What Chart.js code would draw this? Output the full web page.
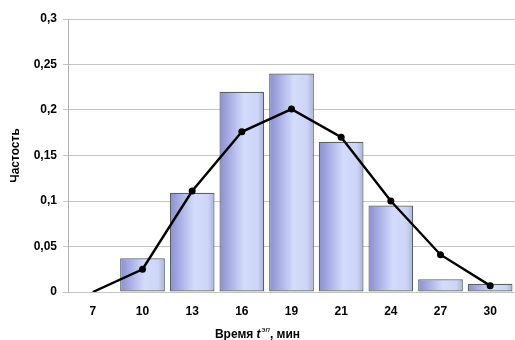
<!DOCTYPE html>
<html>
<head>
<meta charset="utf-8">
<script src="https://cdn.jsdelivr.net/npm/chart.js@4.4.1/dist/chart.umd.min.js"></script>
<style>
  html, body { margin: 0; padding: 0; background: #fff; }
  #wrap { width: 515px; height: 340px; }
</style>
</head>
<body>
<div id="wrap"><canvas id="myChart"></canvas></div>
<script>
// data
var categories = ['7', '10', '13', '16', '19', '21', '24', '27', '30'];
var barValues = [0, 0.037, 0.109, 0.22, 0.24, 0.165, 0.095, 0.014, 0.009];
var lineValues = [0, 0.025, 0.111, 0.176, 0.201, 0.170, 0.100, 0.041, 0.007];
var yTicks = [0, 0.05, 0.1, 0.15, 0.2, 0.25, 0.3];

var FONT = 'Liberation Sans, Arial, sans-serif';

function fmt(v) {
    return String(Math.round(v * 100) / 100).replace('.', ',');
}

// horizontal gradient for each bar, like the old Excel style
function barFill(context) {
    var chart = context.chart;
    var xs = chart.scales && chart.scales.x;
    if (!xs) return '#b8bff0';
    var cx = xs.getPixelForValue(context.dataIndex);
    var w = xs.width / categories.length * 0.9;
    if (!isFinite(cx) || !isFinite(w) || w <= 0) return '#b8bff0';
    var g = chart.ctx.createLinearGradient(cx - w / 2, 0, cx + w / 2, 0);
    g.addColorStop(0, '#8a8ed2');
    g.addColorStop(0.55, '#d4dcfc');
    g.addColorStop(0.85, '#cdd5f6');
    g.addColorStop(1, '#a9b0de');
    return g;
}

// x axis title with superscript
var xTitlePlugin = {
    id: 'xTitle',
    afterDraw: function (chart) {
        var c = chart.ctx;
        c.save();
        c.fillStyle = '#000';
        c.textBaseline = 'alphabetic';
        var a = 'Время ', t = 't', sup = 'эп', b = ', мин';
        c.font = 'bold 12px ' + FONT;
        var wa = c.measureText(a).width;
        var wb = c.measureText(b).width;
        c.font = 'italic bold 12px ' + FONT;
        var wt = c.measureText(t).width;
        c.font = 'italic 8px ' + FONT;
        var ws = c.measureText(sup).width;
        var total = wa + wt + ws + 1 + wb;
        var x = chart.width / 2 - total / 2;
        var y = 338;
        c.font = 'bold 12px ' + FONT;
        c.fillText(a, x, y); x += wa;
        c.font = 'italic bold 12px ' + FONT;
        c.fillText(t, x, y); x += wt + 1;
        c.font = 'italic 8px ' + FONT;
        c.fillText(sup, x, y - 6); x += ws;
        c.font = 'bold 12px ' + FONT;
        c.fillText(b, x, y);
        c.restore();
    }
};

var ctx = document.getElementById('myChart').getContext('2d');
var myChart = new Chart(ctx, {
    type: 'bar',
    data: {
        labels: categories,
        datasets: [{
            type: 'line',
            data: lineValues,
            borderColor: '#000',
            borderWidth: 2.4,
            pointRadius: [0, 3.5, 3.5, 3.5, 3.5, 3.5, 3.5, 3.5, 3.5],
            pointBorderWidth: 0,
            pointBackgroundColor: '#000',
            pointBorderColor: '#000',
            tension: 0,
            order: 0
        }, {
            data: barValues,
            backgroundColor: barFill,
            borderColor: '#56645f',
            borderWidth: 1.2,
            borderSkipped: false,
            barPercentage: 0.9,
            categoryPercentage: 1,
            order: 1
        }]
    },
    options: {
        responsive: true,
        maintainAspectRatio: false,
        animation: false,
        layout: { autoPadding: false, padding: { top: 19, right: 0, left: 0, bottom: 0 } },
        plugins: {
            legend: { display: false },
            tooltip: { enabled: false }
        },
        scales: {
            x: {
                grid: { display: false },
                border: { display: false },
                ticks: {
                    color: '#000',
                    padding: 4,
                    font: { family: FONT, size: 12, weight: 'bold' }
                },
                afterFit: function (s) {
                    s.height = 48;
                    s.paddingLeft = 0;
                    s.paddingRight = 0;
                }
            },
            y: {
                min: 0,
                max: 0.3,
                afterBuildTicks: function (s) {
                    s.ticks = yTicks.map(function (v) { return { value: v }; });
                },
                grid: { color: '#c4c4c4', lineWidth: 1, tickLength: 5 },
                border: { color: '#b0b0b0' },
                ticks: {
                    color: '#000',
                    padding: 6,
                    font: { family: FONT, size: 12, weight: 'bold' },
                    callback: function (v) { return fmt(v); }
                },
                title: {
                    display: true,
                    text: 'Частость',
                    color: '#000',
                    padding: { top: 8, bottom: 0 },
                    font: { family: FONT, size: 12, weight: 'bold' }
                },
                afterFit: function (s) { s.width = 68; }
            }
        }
    },
    plugins: [xTitlePlugin]
});
myChart.update();
</script>
</body>
</html>
